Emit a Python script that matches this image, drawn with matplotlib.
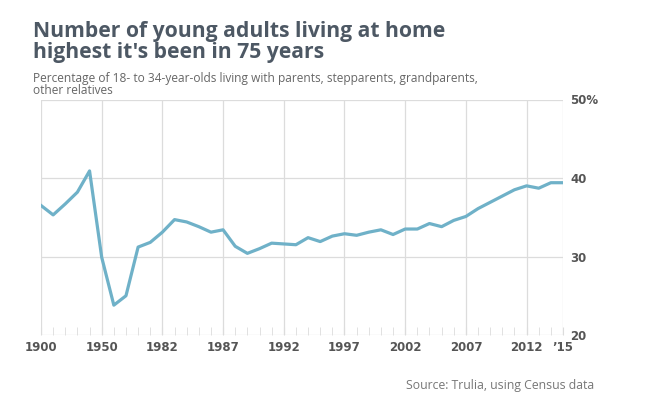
import matplotlib
matplotlib.use("Agg")
import matplotlib.pyplot as plt
import numpy as np

years = [1900, 1910, 1920, 1930, 1940, 1950, 1960, 1970, 1980, 1981] + list(range(1982, 2016))
share = [36.5, 35.3, 36.7, 38.2, 40.9, 29.9, 23.8, 25.0, 31.2, 31.8,
         33.1, 34.7, 34.4, 33.8, 33.1, 33.4, 31.3, 30.4, 31.0, 31.7,
         31.6, 31.5, 32.4, 31.9, 32.6, 32.9, 32.7, 33.1, 33.4, 32.8,
         33.5, 33.5, 34.2, 33.8, 34.6, 35.1, 36.1, 36.9, 37.7, 38.5,
         39.0, 38.7, 39.4, 39.4]
label_years = [1900, 1950, 1982, 1987, 1992, 1997, 2002, 2007, 2012, 2015]
label_text = ["1900", "1950", "1982", "1987", "1992", "1997", "2002", "2007", "2012", "\u201915"]
y_ticks = [20, 30, 40, 50]
y_text = ["20", "30", "40", "50%"]

W, H = 650, 405
fig = plt.figure(figsize=(W / 100, H / 100), dpi=100)
ax = fig.add_axes([41 / W, 1 - 335 / H, (563 - 41) / W, (335 - 99.5) / H])

idx = np.arange(len(years))
lab_idx = [years.index(y) for y in label_years]

grid_col = "#dcdcdc"
for v in y_ticks:
    ax.axhline(v, color=grid_col, lw=0.9, zorder=1)
for i in lab_idx:
    ax.axvline(i, color=grid_col, lw=0.9, zorder=1)

ax.plot(idx, share, color="#6fb1c8", lw=2.3, zorder=3)

ax.set_xlim(0, len(years) - 1)
ax.set_ylim(20, 50)
for s in ax.spines.values():
    s.set_visible(False)

ax.set_xticks(lab_idx)
ax.set_xticklabels(label_text, fontsize=8.5, fontweight="bold", color="#555555")
ax.set_xticks(idx, minor=True)
ax.tick_params(axis="x", which="both", direction="in", length=6, color=grid_col, pad=4)

ax.yaxis.tick_right()
ax.set_yticks(y_ticks)
ax.set_yticklabels(y_text, fontsize=8.5, fontweight="bold", color="#555555")
ax.tick_params(axis="y", length=0, pad=5)

fig.text(33 / W, 1 - 37 / H, "Number of young adults living at home",
         family="Open Sans", fontweight="bold", fontsize=15.2, color="#4d5864", va="baseline")
fig.text(33 / W, 1 - 58 / H, "highest it's been in 75 years",
         family="Open Sans", fontweight="bold", fontsize=15.2, color="#4d5864", va="baseline")
sub = ["Liberation Sans Narrow", "Open Sans"]
fig.text(33 / W, 1 - 82 / H, "Percentage of 18- to 34-year-olds living with parents, stepparents, grandparents,",
         family=sub, fontsize=8.6, color="#666666", va="baseline")
fig.text(33 / W, 1 - 94.5 / H, "other relatives",
         family=sub, fontsize=8.6, color="#666666", va="baseline")
fig.text(594 / W, 1 - 385 / H, "Source: Trulia, using Census data",
         family=sub, fontsize=8.8, color="#777777", ha="right", va="center")

fig.savefig("out.png", dpi=100)
